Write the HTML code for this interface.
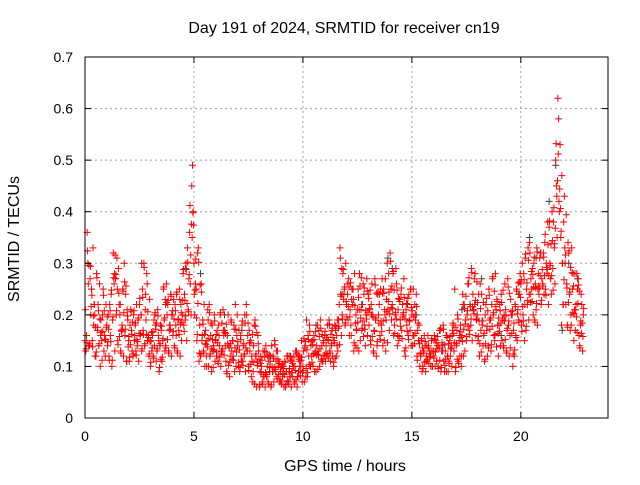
<!DOCTYPE html>
<html><head><meta charset="utf-8"><style>
body{margin:0;background:#fff;}
svg text{font-family:"Liberation Sans",sans-serif;fill:#000;}
</style></head><body>
<svg id="chart" width="640" height="480" xmlns="http://www.w3.org/2000/svg">
<rect width="640" height="480" fill="#fff"/>
<text x="344" y="33" font-size="16" text-anchor="middle">Day 191 of 2024, SRMTID for receiver cn19</text>
<text x="345" y="471" font-size="16" text-anchor="middle">GPS time / hours</text>
<text x="19" y="239" font-size="16" text-anchor="middle" transform="rotate(-90 19 239)">SRMTID / TECUs</text>
<g id="grid"></g>
<g id="marks"></g>
<g id="axes"></g>
</svg>
<script>
const xTicks=[0,5,10,15,20];
const yTicks=[0,0.1,0.2,0.3,0.4,0.5,0.6,0.7];
const yTickLabels=["0","0.1","0.2","0.3","0.4","0.5","0.6","0.7"];
const seriesA=[.15,.36,.14,.25,.18,.12,.22,.10,.20,.16,
.18,.12,.24,.32,.27,.15,.20,.18,.30,.11,
.15,.21,.12,.18,.14,.22,.13,.30,.19,.16,
.10,.16,.20,.13,.09,.17,.25,.14,.22,.18,
.20,.14,.24,.17,.22,.28,.19,.33,.36,.45,
.30,.25,.33,.12,.19,.10,.15,.22,.09,.14,
.15,.11,.20,.13,.17,.09,.14,.19,.12,.22,
.14,.09,.18,.12,.22,.10,.15,.07,.19,.11,
.06,.10,.08,.14,.07,.12,.09,.15,.08,.11,
.07,.10,.06,.12,.08,.11,.07,.13,.09,.10,
.10,.14,.08,.18,.12,.16,.09,.13,.19,.11,
.16,.12,.19,.14,.10,.17,.13,.33,.20,.25,
.22,.27,.18,.25,.14,.21,.28,.17,.24,.20,
.24,.15,.20,.27,.14,.22,.18,.25,.13,.21,
.32,.22,.18,.26,.15,.24,.20,.12,.22,.19,
.20,.16,.24,.15,.12,.10,.14,.11,.13,.15,
.12,.15,.10,.17,.13,.09,.16,.11,.14,.18,
.09,.20,.12,.16,.22,.15,.26,.18,.24,.28,
.20,.12,.24,.16,.22,.14,.19,.27,.15,.23,
.18,.24,.14,.21,.27,.16,.20,.12,.25,.19,
.26,.20,.31,.22,.34,.25,.30,.21,.28,.32,
.26,.34,.28,.37,.24,.38,.50,.62,.53,.30,
.43,.26,.32,.20,.28,.17,.25,.14,.22];
const seriesB=[.13,.30,.27,.15,.22,.28,.14,.19,.25,.12,
.14,.22,.10,.26,.20,.29,.13,.25,.16,.21,
.11,.17,.20,.13,.19,.16,.25,.14,.28,.12,
.15,.12,.18,.21,.14,.11,.19,.26,.13,.24,
.16,.22,.13,.25,.15,.18,.30,.21,.26,.49,
.20,.15,.11,.26,.13,.17,.21,.12,.18,.20,
.12,.18,.10,.21,.14,.16,.08,.13,.18,.10,
.10,.16,.11,.20,.13,.17,.08,.14,.12,.16,
.09,.07,.13,.08,.11,.06,.12,.09,.13,.07,
.10,.06,.09,.07,.12,.08,.10,.06,.12,.15,
.13,.08,.16,.10,.15,.09,.14,.17,.11,.15,
.11,.18,.13,.17,.15,.12,.19,.24,.28,.18,
.26,.16,.23,.13,.20,.25,.15,.22,.18,.27,
.18,.22,.13,.19,.24,.16,.27,.15,.23,.28,
.25,.28,.20,.14,.23,.17,.27,.21,.16,.25,
.14,.22,.12,.18,.15,.13,.09,.16,.12,.10,
.16,.11,.14,.09,.18,.13,.12,.15,.10,.13,
.14,.11,.18,.24,.13,.20,.17,.29,.21,.16,
.15,.26,.18,.11,.17,.25,.13,.20,.28,.18,
.22,.15,.20,.13,.18,.23,.10,.22,.15,.24,
.18,.28,.17,.33,.24,.29,.19,.33,.24,.22,
.32,.25,.38,.30,.40,.33,.45,.58,.35,.22,
.30,.18,.24,.33,.15,.22,.27,.18,.13];
const seriesC=[.16,.14,.20,.33,.12,.17,.26,.15,.13,.22,
.20,.16,.19,.13,.31,.22,.17,.12,.24,.19,
.18,.13,.15,.22,.11,.20,.17,.21,.15,.23,
.13,.19,.11,.16,.18,.15,.13,.20,.17,.12,
.23,.18,.19,.12,.20,.24,.15,.27,.20,.40,
.26,.32,.18,.15,.22,.12,.10,.16,.13,.11,
.17,.14,.13,.16,.11,.20,.12,.15,.09,.16,
.17,.12,.14,.09,.16,.13,.11,.18,.06,.13,
.12,.13,.06,.10,.09,.14,.07,.11,.10,.09,
.08,.11,.12,.09,.06,.10,.13,.08,.11,.07,
.07,.19,.12,.14,.10,.13,.18,.10,.14,.12,
.14,.15,.11,.12,.18,.14,.22,.16,.23,.30,
.19,.21,.25,.28,.17,.13,.21,.26,.14,.16,
.21,.26,.17,.12,.20,.25,.14,.20,.30,.17,
.19,.16,.29,.21,.19,.22,.13,.18,.24,.14,
.25,.19,.17,.10,.09,.16,.12,.14,.10,.13,
.10,.14,.17,.13,.11,.16,.09,.12,.17,.25,
.17,.15,.10,.12,.19,.26,.22,.15,.27,.19,
.24,.17,.14,.20,.12,.19,.22,.16,.21,.12,
.14,.19,.26,.17,.12,.20,.17,.16,.21,.28,
.30,.15,.25,.19,.27,.20,.26,.18,.31,.27,
.24,.30,.22,.27,.29,.26,.35,.40,.18,.38,
.22,.34,.17,.25,.21,.28,.16,.24,.20];
const grayT=[0.3,1.4,2.6,3.7,4.6,5.3,6.4,7.2,8.5,9.4,10.6,11.8,12.7,13.9,14.1,15.2,16.4,17.3,18.2,19.1,19.9,20.4,20.7,21.3,21.6,21.9,22.2,22.6];
const grayV=[0.25,0.27,0.30,0.22,0.29,0.28,0.20,0.17,0.11,0.12,0.18,0.24,0.22,0.31,0.29,0.20,0.14,0.21,0.27,0.16,0.24,0.35,0.31,0.42,0.49,0.17,0.30,0.27];

const X0=85,X1=608,Y0=418,Y1=57;
const xs=t=>X0+t/24*(X1-X0);
const ys=v=>Y0-v/0.7*(Y0-Y1);
const NS="http://www.w3.org/2000/svg";
const grid=document.getElementById('grid'),marks=document.getElementById('marks'),axes=document.getElementById('axes');
function mk(tag,attrs,parent){const e=document.createElementNS(NS,tag);for(const k in attrs)e.setAttribute(k,attrs[k]);parent.appendChild(e);return e;}
yTicks.forEach((v,i)=>{
  if(i>0&&i<yTicks.length-1){const g=mk('line',{x1:X0,x2:X1,y1:ys(v),y2:ys(v),stroke:'#a0a0a0','stroke-dasharray':'2,3'},grid);
  
  }
  const t=mk('text',{x:X0-12,y:ys(v)+5,'font-size':14,'text-anchor':'end'},axes);t.textContent=yTickLabels[i];
  
  
  mk('line',{x1:X0,x2:X0+6,y1:ys(v),y2:ys(v),stroke:'#000'},axes);
  mk('line',{x1:X1,x2:X1-6,y1:ys(v),y2:ys(v),stroke:'#000'},axes);
});
xTicks.forEach(v=>{
  if(v>0){const g=mk('line',{x1:xs(v),x2:xs(v),y1:Y0,y2:Y1,stroke:'#a0a0a0','stroke-dasharray':'2,3'},grid);
  
  }
  const t=mk('text',{x:xs(v),y:Y0+23,'font-size':14,'text-anchor':'middle'},axes);t.textContent=String(v);
  
  
  mk('line',{x1:xs(v),x2:xs(v),y1:Y0,y2:Y0-6,stroke:'#000'},axes);
  mk('line',{x1:xs(v),x2:xs(v),y1:Y1,y2:Y1+6,stroke:'#000'},axes);
});
const fr=mk('rect',{x:X0,y:Y1,width:X1-X0,height:Y0-Y1,fill:'none',stroke:'#000'},axes);


function plus(t,v,color,name){
  const x=xs(t),y=ys(v);
  const p=mk('path',{d:`M${x-3.5},${y}h7M${x},${y-3.5}v7`,stroke:color,'stroke-width':1,fill:'none'},marks);
  
  
}
grayT.forEach((t,i)=>plus(t,grayV[i],'#404040','gray-point'));
const S=[seriesA,seriesB,seriesC];
S.forEach((s,k)=>{
  s.forEach((v,i)=>{plus(i*0.1+k*0.033,v,'#ff0000','red-point');});
});
[[0,1],[1,2],[0,2]].forEach((pr,k)=>{
  S[pr[0]].forEach((v,i)=>{
    const w=S[pr[1]][Math.min(i+1,S[pr[1]].length-1)];
    plus(i*0.1+0.017+k*0.033,(v*0.6+w*0.4),'#ff0000','red-point');
  });
});
</script>
</body></html>
